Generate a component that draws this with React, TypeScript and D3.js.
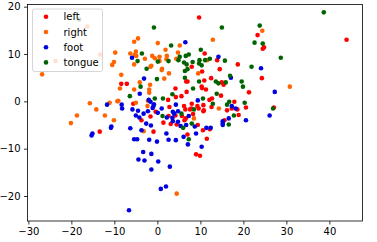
import React, { useRef, useEffect } from "react";
import * as d3 from "d3";

/* points of each class as [x, y] */
const leftPts = [
  [9.7, 17.7], [23.3, 14.0], [24.5, 11.1], [24.8, 11.4], [44.0, 13.0], [11.0, 10.1], [8.0, 7.3],
  [13.9, 8.7], [14.5, 6.8], [18.7, 7.8], [10.4, 6.3], [24.3, 4.9], [12.5, 4.9], [10.9, 4.4],
  [15.0, 4.0], [15.4, 3.5], [7.0, 4.2], [10.3, 3.1], [10.4, 2.8], [11.3, 2.5], [21.3, 1.9],
  [14.8, 1.2], [12.7, 0.6], [12.1, 0.3], [8.0, -0.5], [17.9, -0.1], [18.6, -1.7], [20.6, -1.3],
  [18.9, -2.9], [9.3, -1.0], [9.6, -1.5], [10.8, -1.9], [12.6, -1.2], [16.2, -1.9], [17.3, -1.5],
  [7.6, -1.7], [27.1, -1.3], [6.8, 2.0], [7.0, -7.0], [12.2, -5.9], [11.5, -7.9], [9.0, -11.2],
  [9.9, -11.5], [-8.4, 3.7], [-7.1, 3.7], [4.2, 2.7], [6.7, 4.2], [5.6, 1.1], [2.8, -1.2],
  [-0.4, -2.2], [-1.6, -3.2], [-13.4, -6.4], [-0.9, -6.4], [-3.7, -4.0], [4.5, -4.9], [6.3, -4.0],
  [2.5, 0.3], [4.3, 0.9], [6.2, -1.0], [6.5, -1.7], [7.9, -1.5], [8.3, -2.7], [10.7, -0.8],
  [10.7, -2.1], [5.7, -3.1], [6.6, -3.6], [4.2, -3.0], [2.6, -3.1], [3.1, -4.8], [1.4, -4.5],
  [9.4, -5.0], [10.6, -6.1], [-5.6, -0.5], [15.6, -4.0],
];

const rightPts = [
  [-16.3, 15.8], [-13.3, 9.9], [-23.7, 8.5], [-26.8, 5.7], [-9.8, 10.3], [-10.1, 8.3], [-10.5, 7.7],
  [-5.4, 12.6], [-4.5, 13.3], [-6.3, 10.1], [-5.0, 10.5], [-5.3, 9.8], [-2.9, 9.0], [-5.4, 7.8],
  [0.1, 12.3], [1.9, 10.9], [-1.6, 7.3], [0.5, 9.4], [1.0, 6.6], [1.6, 4.8], [2.7, 5.9], [4.8, 10.3],
  [-8.4, 5.6], [-8.7, 2.7], [-5.4, 2.5], [-4.1, 4.0], [-1.9, 2.5], [-1.9, 1.8], [-1.7, 3.5],
  [-2.2, 0.1], [-2.3, -1.0], [-9.3, 0.0], [-11.1, -0.3], [-15.7, -0.4], [-14.2, -1.7], [-18.7, -3.0],
  [-12.2, -3.0], [-20.1, -4.6], [-10.1, -4.0], [-3.2, -6.3], [4.5, -19.5], [-9.1, 0.1], [-5.0, -0.3],
  [12.9, 13.0], [24.4, 14.9], [11.6, 8.7], [9.5, 5.9], [14.3, -1.5], [8.5, -3.6], [30.8, 3.1],
  [5.2, 11.8], [-4.9, 9.6], [-1.2, 9.6], [-0.6, 9.1], [0.5, 8.5], [2.2, 9.6], [2.1, 8.9], [4.4, 9.0],
  [-1.4, 7.5], [1.1, 6.9],
];

const footPts = [
  [-15.3, -7.2], [-15.1, -6.8], [-10.8, -5.6], [-10.7, -5.3], [-6.3, -5.7], [-2.6, -4.7], [-1.5, -5.1],
  [-5.4, -8.0], [-4.7, -8.0], [-1.9, -8.1], [-0.1, -8.5], [2.1, -6.8], [2.6, -8.1], [4.3, -8.2],
  [6.1, -7.5], [7.1, -9.1], [-3.3, -10.7], [-1.4, -11.1], [-4.4, -12.3], [-3.0, -12.5], [0.2, -12.7],
  [-1.4, -14.4], [2.9, -13.8], [0.8, -18.5], [2.0, -18.0], [-6.6, -23.0], [3.6, -4.2], [5.4, -5.2],
  [8.7, -5.3], [9.0, -6.8], [10.3, -9.6], [12.4, -5.6], [15.2, -4.7], [15.2, -4.2], [20.6, -4.0],
  [14.2, 9.4], [24.1, 7.0], [17.1, 5.0], [27.3, 2.0], [9.4, 0.2], [17.3, -1.0], [18.2, -1.5],
  [16.6, -3.6], [26.1, -3.0], [7.3, -3.1], [6.5, 12.5], [-5.9, 9.2], [-3.1, 4.8], [-4.1, 1.6],
  [-11.7, -0.7], [-8.3, -0.7], [-8.2, -1.5], [-5.8, -1.7], [-4.5, -2.0], [-5.0, -3.0], [-4.2, -3.4],
  [-1.6, -0.1], [-0.8, -0.6], [-0.9, -1.0], [-1.1, -1.4], [-3.2, -2.6], [0.1, -2.4], [1.0, -1.5],
  [2.2, -3.4], [3.5, -3.5], [4.3, -0.7], [3.9, -2.6], [-2.0, 0.3], [-2.2, -2.1], [3.6, -2.2],
  [4.8, -2.1], [4.8, -4.3], [6.7, -5.0], [-3.7, -6.1], [11.4, -5.6], [15.2, -5.0],
];

const tonguePts = [
  [-18.2, 17.3], [38.7, 18.8], [15.0, 15.6], [23.8, 16.0], [22.6, 12.4], [24.5, 12.2], [10.1, 10.9],
  [7.3, 9.9], [15.7, 8.6], [28.7, 9.2], [21.9, 7.3], [9.8, 8.7], [9.7, 8.0], [8.2, 8.3], [10.3, 7.6],
  [12.2, 9.0], [6.8, 7.8], [7.0, 6.8], [16.9, 5.4], [9.7, 4.2], [13.6, 4.2], [14.2, 3.8], [15.9, 4.0],
  [19.6, 4.2], [19.9, 3.1], [8.3, 2.7], [13.8, 1.6], [10.6, 0.6], [12.9, -0.5], [16.2, -0.7],
  [20.3, -0.3], [26.9, -1.5], [8.5, -1.7], [17.8, -3.0], [16.7, -0.1], [8.0, -4.7], [16.6, -4.9],
  [7.3, -8.0], [-0.8, 15.6], [-3.6, 10.1], [0.1, 8.4], [3.2, 11.8], [-4.6, 8.5], [-2.5, 6.9],
  [-0.1, 4.7], [-3.9, 3.1], [-6.4, 1.1], [1.3, 0.6], [3.5, 1.5], [4.9, 8.7], [6.4, 5.0], [6.4, 6.4],
  [-0.6, 0.6], [5.6, -2.6], [1.2, -3.1], [2.6, 8.5], [5.2, 9.4], [6.6, 9.6], [6.2, 8.2], [11.1, 8.7],
  [6.0, -5.6],
];

const seriesNames = ["left", "right", "foot", "tongue"];
const seriesColors = ["#ff0000", "#ff6400", "#0000e0", "#006400"];
const seriesData = [leftPts, rightPts, footPts, tonguePts];

const xTicks = [-30, -20, -10, 0, 10, 20, 30, 40];
const yTicks = [-20, -10, 0, 10, 20];

const App = () => {
  const svgRef = useRef(null);

  useEffect(() => {
    const svg = d3.select(svgRef.current);
    svg.selectAll("*").remove();
    const font = "DejaVu Sans";

    const left = 27.5, right = 362.5, top = 4.5, bottom = 221;

    const x = d3.scaleLinear().domain([-30.2, 47.7]).range([left, right]);
    const y = d3.scaleLinear().domain([-25.28, 20.46]).range([bottom, top]);

    /* points */
    seriesData.forEach((pts, i) => {
      svg
        .append("g")
        .selectAll("circle")
        .data(pts)
        .enter()
        .append("circle")
        .attr("cx", (d) => x(d[0]))
        .attr("cy", (d) => y(d[1]))
        .attr("r", 2.3)
        .attr("fill", seriesColors[i]);
    });

    /* axes */
    const xAxis = svg
      .append("g")
      .attr("transform", `translate(0, ${bottom})`)
      .call(d3.axisBottom(x).tickValues(xTicks).tickSize(3.5).tickPadding(3.5).tickFormat((d) => String(d).replace("-", "\u2212")));
    const yAxis = svg
      .append("g")
      .attr("transform", `translate(${left}, 0)`)
      .call(d3.axisLeft(y).tickValues(yTicks).tickSize(3.5).tickPadding(3.5).tickFormat((d) => String(d).replace("-", "\u2212")));
    [xAxis, yAxis].forEach((g) => {
      g.select(".domain").remove();
      g.selectAll("line").attr("stroke", "#000").attr("stroke-width", 0.8);
      g.selectAll("text").attr("fill", "#000").style("font-family", font).style("font-size", "10px");
    });

    /* frame */
    svg
      .append("rect")
      .attr("x", left)
      .attr("y", top)
      .attr("width", right - left)
      .attr("height", bottom - top)
      .attr("fill", "none")
      .attr("stroke", "#000")
      .attr("stroke-width", 0.8);

    /* legend */
    const lg = svg.append("g");
    lg.append("rect")
      .attr("x", 32.5)
      .attr("y", 9)
      .attr("width", 70)
      .attr("height", 62.5)
      .attr("rx", 2)
      .attr("fill", "white")
      .attr("fill-opacity", 0.8)
      .attr("stroke", "#cccccc")
      .attr("stroke-width", 0.8);
    seriesNames.forEach((name, i) => {
      const yy = 16.8 + i * 15.2;
      lg.append("circle").attr("cx", 46).attr("cy", yy).attr("r", 2.3).attr("fill", seriesColors[i]);
      lg.append("text")
        .attr("x", 63.5)
        .attr("y", yy)
        .attr("dy", "0.35em")
        .style("font-family", font)
        .style("font-size", "10px")
        .attr("fill", "#000")
        .text(name);
    });
  }, []);

  return (
    <svg
      ref={svgRef}
      width={377}
      height={242}
      style={{ position: "absolute", left: 0, top: 0, background: "white" }}
    ></svg>
  );
};

export default App;
